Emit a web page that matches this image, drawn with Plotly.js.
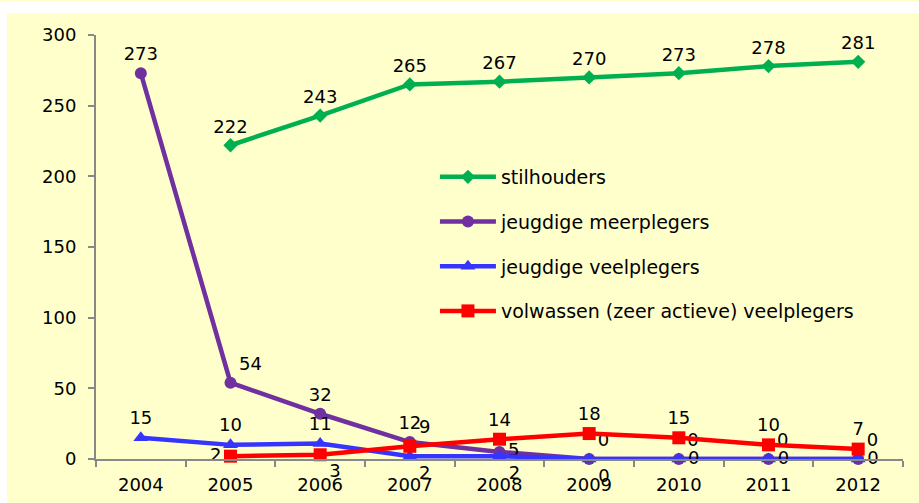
<!DOCTYPE html>
<html>
<head>
<meta charset="utf-8">
<script src="https://cdn.plot.ly/plotly-3.0.1.min.js"></script>
<style>
  html, body { margin: 0; padding: 0; background: #ffffff; width: 919px; height: 503px; overflow: hidden; }
  #topline { position: absolute; left: 0; top: 0; width: 919px; height: 1px; background: #FFFFCC; }
  #chart { position: absolute; left: 7px; top: 13px; width: 912px; height: 490px; }
</style>
</head>
<body>
<div id="topline"></div>
<div id="chart"></div>
<script>
const years = ['2004', '2005', '2006', '2007', '2008', '2009', '2010', '2011', '2012'];
const seriesNames = ['stilhouders', 'jeugdige meerplegers', 'jeugdige veelplegers', 'volwassen (zeer actieve) veelplegers'];

const stilhouders = [null, 222, 243, 265, 267, 270, 273, 278, 281];
const meerplegers = [273, 54, 32, 12, 5, 0, 0, 0, 0];
const jeugdVeelplegers = [15, 10, 11, 2, 2, 0, 0, 0, 0];
const volwassenVeelplegers = [null, 2, 3, 9, 14, 18, 15, 10, 7];

const stilPos = ['top center','top center','top center','top center','top center','top center','top center','top center','top center'];
const meerPos = ['top center','top right','top center','top center','middle right','top right','top right','top right','top right'];
const jeugdPos = ['top center','top center','top center','bottom right','bottom right','bottom right','middle right','middle right','middle right'];
const volPos = ['middle left','middle left','bottom right','top right','top center','top center','top center','top center','top center'];

const colors = ['#00B050', '#7030A0', '#3535FF', '#FF0000'];
const symbols = ['diamond', 'circle', 'triangle-up', 'square'];
const sizes = [11, 12, 13, 13];

const allValues = [stilhouders, meerplegers, jeugdVeelplegers, volwassenVeelplegers];
const allPos = [stilPos, meerPos, jeugdPos, volPos];

const FAM = 'DejaVu Sans, sans-serif';
const txtFont = { family: FAM, size: 18, color: '#000000' };

const traces = allValues.map((vals, i) => ({
  type: 'scatter',
  mode: 'lines+markers+text',
  name: seriesNames[i],
  legendgroup: 'g' + i,
  x: years,
  y: vals,
  text: vals.map(v => v === null ? '' : String(v)),
  textposition: allPos[i],
  textfont: txtFont,
  line: { color: colors[i], width: 4.5 },
  marker: { color: colors[i], symbol: symbols[i], size: sizes[i] },
  cliponaxis: false,
  connectgaps: false
}));

const layout = {
  width: 912,
  height: 490,
  paper_bgcolor: '#FFFFCC',
  plot_bgcolor: '#FFFFCC',
  margin: { l: 89, r: 16, t: 22, b: 44 },
  font: { family: FAM, size: 18, color: '#000000' },
  showlegend: true,
  legend: {
    x: 0.42, y: 0.71, xanchor: 'left', yanchor: 'top',
    bgcolor: 'rgba(0,0,0,0)',
    font: { family: FAM, size: 19, color: '#000000' },
    traceorder: 'grouped',
    tracegroupgap: 17,
    itemwidth: 56
  },
  xaxis: {
    type: 'category',
    range: [-0.5, 8.5],
    showline: true, linecolor: '#888888', linewidth: 2,
    ticks: 'outside', tickson: 'boundaries', ticklen: 6, tickcolor: '#888888', tickwidth: 2,
    showgrid: false, zeroline: false,
    ticklabelstandoff: 8,
    tickfont: { family: FAM, size: 18, color: '#000000' },
    fixedrange: true
  },
  yaxis: {
    range: [0, 300],
    tickvals: [0, 50, 100, 150, 200, 250, 300],
    showline: true, linecolor: '#888888', linewidth: 2,
    ticks: 'outside', ticklen: 6, tickcolor: '#888888', tickwidth: 2,
    showgrid: false, zeroline: false,
    ticklabelstandoff: 8,
    tickfont: { family: FAM, size: 18, color: '#000000' },
    fixedrange: true
  }
};

Plotly.newPlot('chart', traces, layout, { displayModeBar: false, staticPlot: true });
</script>
</body>
</html>
